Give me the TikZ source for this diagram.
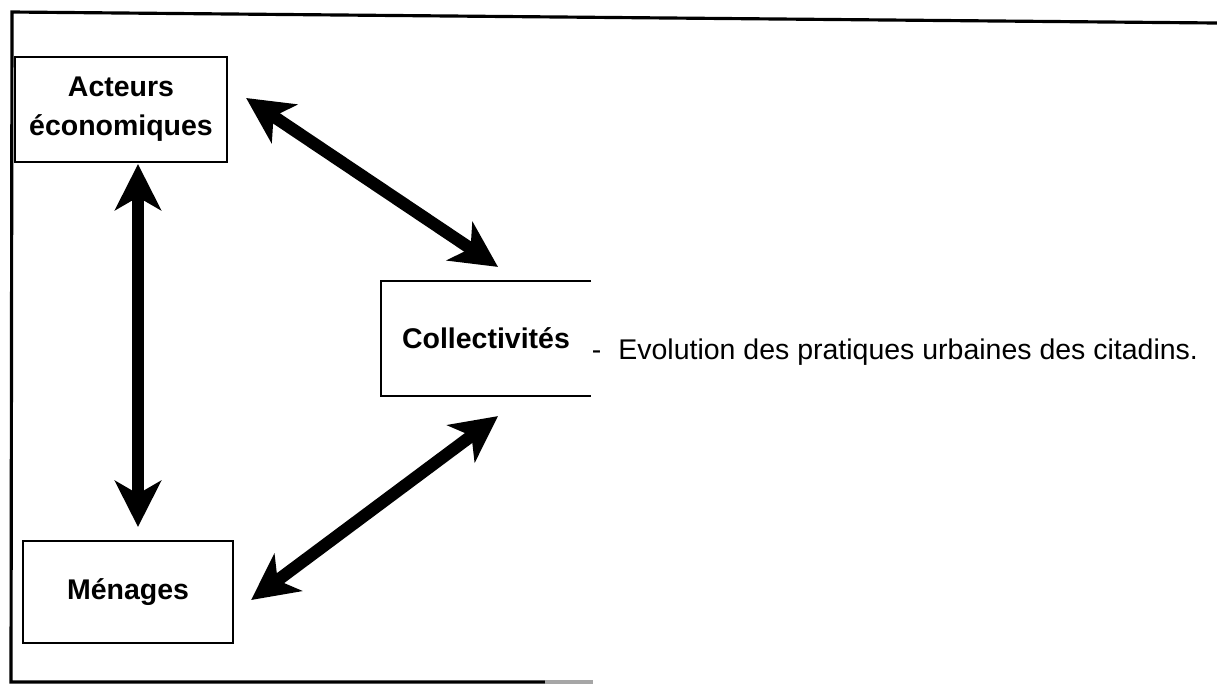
\documentclass[tikz,border=0pt]{standalone}
\usepackage{fontspec}
\setmainfont{Liberation Sans}
\usetikzlibrary{arrows.meta}
\tikzset{
  box/.style={draw, line width=0.6pt, inner sep=0pt, align=center,
    font=\bfseries\fontsize{8.1pt}{11.1pt}\selectfont},
  twoway/.style={line width=3.5pt,
    {Stealth[length=4.6mm,width=4.6mm,inset=1.3mm]}-{Stealth[length=4.6mm,width=4.6mm,inset=1.3mm]}}
}
\begin{document}
\begin{tikzpicture}[x=0.01cm,y=-0.01cm]
        \useasboundingbox (0,0) rectangle (1217,684);
        % cadre
        \draw[line width=0.9pt] (1217,23) -- (12,12) -- (11,682) -- (545,682);
        \draw[line width=0.9pt, black!35] (545,682) -- (593,682);
        \node[box, minimum width=2.12cm, minimum height=1.05cm] (act) at (121,109.5) {Acteurs\\économiques};
        \node[box, minimum width=2.10cm, minimum height=1.02cm] (men) at (128,592) {Ménages};
        \node[box, draw=none, minimum width=2.08cm, minimum height=1.13cm] (coll) at (486,338.5) {Collectivités};
        \draw[line width=0.6pt] (coll.north east) -- (coll.north west) -- (coll.south west) -- (coll.south east);
        \node[anchor=base west, inner sep=0pt, font=\fontsize{8.1pt}{10pt}\selectfont] (evo)
            at ([yshift=-0.205cm]coll.east) {-\hspace{0.6em}Evolution des pratiques urbaines des citadins.};
        % fleches
        \draw[twoway] ([shift={(17,1)}]act.south) -- ([shift={(10,-13)}]men.north);
        \draw[twoway] ([shift={(18,-11.5)}]act.east) -- ([shift={(12,-14)}]coll.north);
        \draw[twoway] ([shift={(17,8)}]men.east) -- ([shift={(12,20)}]coll.south);
\end{tikzpicture}
\end{document}
